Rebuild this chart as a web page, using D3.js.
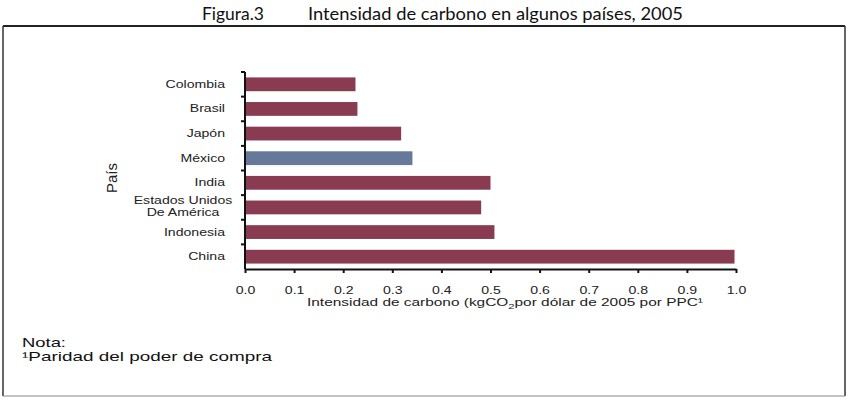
<!DOCTYPE html>
<html>
<head>
<meta charset="utf-8">
<script src="https://cdn.jsdelivr.net/npm/d3@7"></script>
<style>
  body { margin: 0; background: #fff; }
  svg { display: block; }
</style>
</head>
<body>
<div id="chart-container"></div>
<script>
// data
const countries = ["Colombia", "Brasil", "Japón", "México", "India", "Estados Unidos|De América", "Indonesia", "China"]
const intensity = [0.225, 0.229, 0.318, 0.341, 0.500, 0.481, 0.508, 0.997]
const highlight = ["México"]
const xTicks = [0, 0.1, 0.2, 0.3, 0.4, 0.5, 0.6, 0.7, 0.8, 0.9, 1.0]

const width = 859, height = 404
const margin = { left: 245, right: 123, top: 72, bottom: 135 }
const maroon = "#883b51", blue = "#66799a"
const sans = "'Liberation Sans', Arial, sans-serif"
const stretchK = 1.28

const svg = d3.select("#chart-container").append("svg")
    .attr("width", width)
    .attr("height", height)

// stretch text horizontally (the original labels are wide)
function stretch(sel, k) {
    sel.each(function () {
        const w = this.getComputedTextLength()
        d3.select(this).attr("textLength", w * k).attr("lengthAdjust", "spacingAndGlyphs")
    })
}

// frame
svg.append("line").attr("x1", 3).attr("x2", 845).attr("y1", 26).attr("y2", 26).attr("stroke", "#222").attr("stroke-width", 2)
svg.append("line").attr("x1", 3).attr("x2", 3).attr("y1", 26).attr("y2", 396).attr("stroke", "#333").attr("stroke-width", 1.5)
svg.append("line").attr("x1", 845).attr("x2", 845).attr("y1", 26).attr("y2", 396).attr("stroke", "#333").attr("stroke-width", 1.5)
svg.append("line").attr("x1", 3).attr("x2", 845).attr("y1", 396).attr("y2", 396).attr("stroke", "#888").attr("stroke-width", 1)

// title
svg.append("text").attr("x", 202).attr("y", 20)
    .attr("font-family", "Lato, 'Open Sans', sans-serif").attr("font-size", 17).attr("fill", "#111")
    .attr("textLength", 62).attr("lengthAdjust", "spacingAndGlyphs")
    .text("Figura.3")
svg.append("text").attr("x", 308).attr("y", 20)
    .attr("font-family", "Lato, 'Open Sans', sans-serif").attr("font-size", 17).attr("fill", "#111")
    .attr("textLength", 375).attr("lengthAdjust", "spacingAndGlyphs")
    .text("Intensidad de carbono en algunos países, 2005")

const x = d3.scaleLinear().domain([0, 1]).range([margin.left, 736])
const y = d3.scaleBand().domain(countries)
    .range([margin.top, height - margin.bottom])
    .paddingInner(0.44).paddingOuter(0.22)

// bars
svg.append("g").selectAll("rect")
    .data(countries)
    .join("rect")
    .attr("x", x(0) + 1)
    .attr("y", d => y(d))
    .attr("width", (d, i) => x(intensity[i]) - x(0) - 1)
    .attr("height", y.bandwidth())
    .attr("fill", d => highlight.includes(d) ? blue : maroon)

// y axis, ticks between bands
const yAxis = svg.append("g")
    .attr("transform", `translate(${x(0)},0)`)
    .call(d3.axisLeft(y).tickSize(4).tickPadding(16).tickSizeOuter(0))
yAxis.select(".domain").attr("stroke", "#111").attr("stroke-width", 2)
    .attr("d", `M0,${margin.top}V${height - margin.bottom}`)
yAxis.selectAll(".tick line").attr("stroke", "#111").attr("stroke-width", 2)
    .attr("transform", `translate(0,${-y.step() / 2})`)
yAxis.selectAll(".tick text")
    .attr("font-family", sans).attr("font-size", 11).attr("fill", "#222")
    .each(function (d) {
        const parts = d.split("|")
        const t = d3.select(this).text(null)
        if (parts.length === 1) {
            t.text(parts[0])
        } else {
            t.attr("text-anchor", "middle").attr("x", -62)
            parts.forEach((p, i) => {
                t.append("tspan").attr("x", -62).attr("dy", i === 0 ? "-0.3em" : "1.1em").text(p)
            })
        }
    })
yAxis.selectAll(".tick text").filter(d => !d.includes("|")).call(stretch, stretchK)
yAxis.selectAll(".tick text tspan").each(function () {
    const w = this.getComputedTextLength()
    d3.select(this).attr("textLength", w * stretchK).attr("lengthAdjust", "spacingAndGlyphs")
})

// x axis
const xAxis = svg.append("g")
    .attr("transform", `translate(0,${height - margin.bottom})`)
    .call(d3.axisBottom(x).tickValues(xTicks).tickFormat(d3.format(".1f")).tickSize(4).tickPadding(13).tickSizeOuter(0))
xAxis.select(".domain").attr("stroke", "#111").attr("stroke-width", 2)
xAxis.selectAll(".tick line").attr("stroke", "#111").attr("stroke-width", 2)
xAxis.selectAll(".tick text").attr("font-family", sans).attr("font-size", 11).attr("fill", "#222")
    .call(stretch, stretchK)

// x axis title
const xt = svg.append("text").attr("x", 307).attr("y", 306)
    .attr("font-family", sans).attr("font-size", 11).attr("fill", "#222")
xt.append("tspan").text("Intensidad de carbono (kgCO")
xt.append("tspan").attr("dy", 3).attr("font-size", 8).text("2")
xt.append("tspan").attr("dy", -3).text("por dólar de 2005 por PPC¹")
xt.attr("textLength", 396).attr("lengthAdjust", "spacingAndGlyphs")

// y axis title
svg.append("text")
    .attr("transform", "translate(117,178) rotate(-90)")
    .attr("text-anchor", "middle")
    .attr("font-family", sans).attr("font-size", 15).attr("fill", "#222")
    .text("País")

// note
svg.append("text").attr("x", 22).attr("y", 347)
    .attr("font-family", sans).attr("font-size", 13.5).attr("fill", "#111")
    .attr("textLength", 44).attr("lengthAdjust", "spacingAndGlyphs")
    .text("Nota:")
svg.append("text").attr("x", 22).attr("y", 361)
    .attr("font-family", sans).attr("font-size", 13.5).attr("fill", "#111")
    .attr("textLength", 250).attr("lengthAdjust", "spacingAndGlyphs")
    .text("¹Paridad del poder de compra")
</script>
</body>
</html>
